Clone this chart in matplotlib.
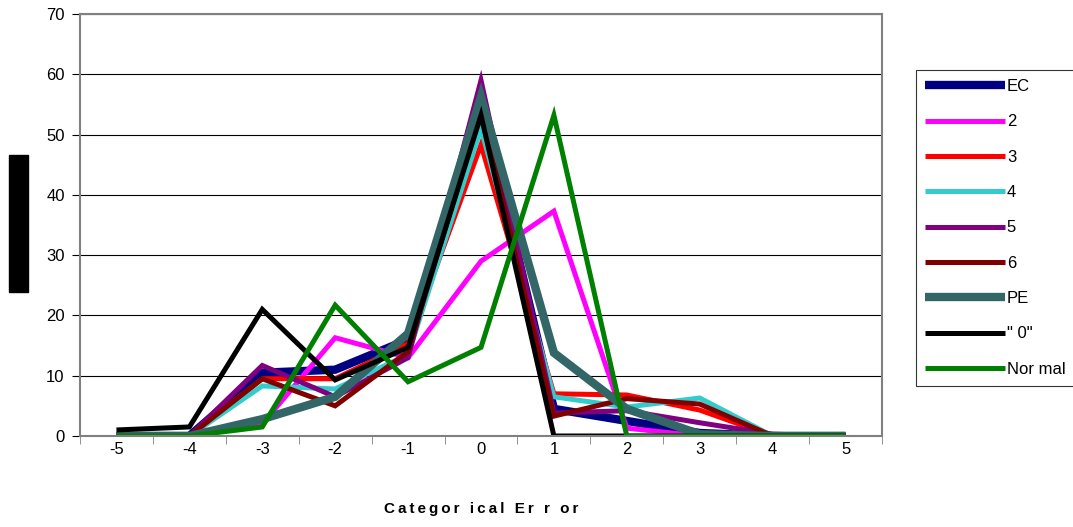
import matplotlib
matplotlib.use("Agg")
import matplotlib.pyplot as plt
from matplotlib.patches import Rectangle

plt.rcParams["axes.unicode_minus"] = False

categories = [-5, -4, -3, -2, -1, 0, 1, 2, 3, 4, 5]
ec     = [0, 0, 10.5, 11, 16, 56, 4.5, 2.5, 0.5, 0, 0]
s2     = [0, 0, 2, 16.3, 13, 29, 37.3, 1.3, 0, 0, 0]
s3     = [0, 0, 9.5, 9.5, 15.3, 48.3, 7, 6.8, 4.3, 0, 0]
s4     = [0, 0, 8.3, 7.8, 13.5, 51, 6.5, 4.8, 6.3, 0, 0]
s5     = [0, 0, 11.7, 6.5, 13, 59, 3.8, 4.2, 2.2, 0.3, 0]
s6     = [0, 0, 9.5, 5, 14, 54, 3.3, 6.2, 5.3, 0, 0]
pe     = [0, 0, 2.8, 6.5, 17, 56.3, 13.8, 4.5, 0.3, 0, 0]
zero   = [1, 1.5, 21, 9.3, 14.7, 53.2, 0, 0, 0, 0, 0]
normal = [0, 0, 1.5, 21.7, 9, 14.7, 53.2, 0, 0, 0, 0]

labels = ["EC", "2", "3", "4", "5", "6", "PE", '" 0"', "Nor mal"]
series = [ec, s2, s3, s4, s5, s6, pe, zero, normal]
colors = ["#000080", "#FF00FF", "#FF0000", "#33CCCC", "#800080", "#800000",
          "#336666", "#000000", "#008000"]
widths = [6, 3.6, 3.6, 3.6, 3.6, 3.6, 6, 3.6, 3.6]

fig = plt.figure(figsize=(10.73, 5.27), dpi=100)
ax = fig.add_axes([80/1073, 1-436/527, (882-80)/1073, (436-14)/527])

for vals, lab, c, w in zip(series, labels, colors, widths):
    ax.plot(categories, vals, color=c, lw=w, label=lab,
            solid_joinstyle="miter", solid_capstyle="butt")

ax.set_xlim(-5.5, 5.5)
ax.set_ylim(0, 70)
ax.set_yticks(range(0, 71, 10))
ax.set_xticks(categories)
ax.set_xticks([c + 0.5 for c in categories[:-1]] + [-5.5, 5.5], minor=True)
ax.tick_params(axis="x", which="major", length=0, pad=4)
ax.tick_params(axis="x", which="minor", length=6, direction="out", color="#808080")
ax.tick_params(axis="y", length=6, direction="out", color="#000000", pad=5)
for lbl in ax.get_xticklabels() + ax.get_yticklabels():
    lbl.set_fontfamily("Liberation Sans")
    lbl.set_fontsize(12)
ax.grid(axis="y", color="#000000", lw=0.8)
ax.set_axisbelow(True)
for s in ax.spines.values():
    s.set_color("#808080")
    s.set_linewidth(1.5)

xl = "\u2009".join("Categor ical Er r or")
ax.set_xlabel(xl, fontsize=11, fontweight="bold",
              fontfamily=["Liberation Sans", "DejaVu Sans"], labelpad=33)

leg = fig.legend(loc="upper left", bbox_to_anchor=(916/1073, 1-70/527),
                 frameon=True, fancybox=False, edgecolor="#000000",
                 prop={"family": "Liberation Sans", "size": 12},
                 handlelength=4.8, handletextpad=0.1, labelspacing=1.22,
                 borderpad=0.55, borderaxespad=0)
leg.get_frame().set_linewidth(0.8)

fig.patches.append(Rectangle((9/1073, 1-292/527), 19/1073, 137/527,
                             transform=fig.transFigure, color="black"))

fig.savefig("out.png", dpi=100)
